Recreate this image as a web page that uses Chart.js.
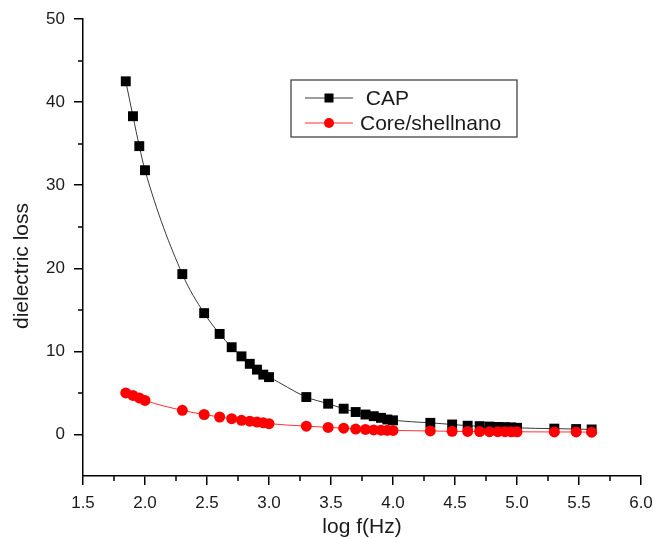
<!DOCTYPE html>
<html>
<head>
<meta charset="utf-8">
<script src="https://cdn.jsdelivr.net/npm/chart.js@4"></script>
<style>
  html, body { margin: 0; padding: 0; background: #fff; }
  #wrap { width: 654px; height: 538px; }
</style>
</head>
<body>
<div id="wrap"><canvas id="chart" width="654" height="538"></canvas></div>
<script>
// log of frequency (70 Hz ... 400 kHz)
const logF = [1.845, 1.903, 1.954, 2.0, 2.301, 2.477, 2.602, 2.699, 2.778, 2.845, 2.903, 2.954, 3.0,
  3.301, 3.477, 3.602, 3.699, 3.778, 3.845, 3.903, 3.954, 4.0,
  4.301, 4.477, 4.602, 4.699, 4.778, 4.845, 4.903, 4.954, 5.0,
  5.301, 5.477, 5.602];
const capLoss = [42.5, 38.3, 34.7, 31.8, 19.3, 14.6, 12.1, 10.5, 9.4, 8.5, 7.8, 7.2, 6.9,
  4.5, 3.7, 3.1, 2.7, 2.4, 2.2, 2.0, 1.8, 1.7,
  1.4, 1.2, 1.05, 1.0, 0.95, 0.9, 0.88, 0.85, 0.8,
  0.7, 0.65, 0.6];
const coreShellLoss = [5.0, 4.7, 4.4, 4.1, 2.9, 2.4, 2.1, 1.9, 1.7, 1.6, 1.5, 1.4, 1.3,
  1.0, 0.85, 0.75, 0.65, 0.6, 0.55, 0.52, 0.5, 0.48,
  0.42, 0.38, 0.36, 0.35, 0.34, 0.33, 0.33, 0.32, 0.32,
  0.3, 0.3, 0.28];
const seriesNames = [' CAP', 'Core/shellnano'];
const xTitle = 'log f(Hz)';
const yTitle = 'dielectric loss';
const xTicks = [1.5, 2.0, 2.5, 3.0, 3.5, 4.0, 4.5, 5.0, 5.5, 6.0];
const xMinor = [1.75, 2.25, 2.75, 3.25, 3.75, 4.25, 4.75, 5.25, 5.75];
const yTicks = [0, 10, 20, 30, 40, 50];
const yMinor = [5, 15, 25, 35, 45];

const FONT = '"Liberation Sans", Arial, sans-serif';
const ink = '#1a1a1a';

function pts(vals) {
  return logF.map((x, i) => ({ x: x, y: vals[i] }));
}

// short minor ticks, Origin style
const minorTicks = {
  id: 'minorTicks',
  afterDraw(chart) {
    const ctx = chart.ctx;
    const xs = chart.scales.x, ys = chart.scales.y;
    const a = chart.chartArea;
    ctx.save();
    ctx.strokeStyle = '#000';
    ctx.lineWidth = 1.5;
    ctx.beginPath();
    xMinor.forEach(v => {
      const px = Math.round(xs.getPixelForValue(v));
      ctx.moveTo(px, a.bottom); ctx.lineTo(px, a.bottom + 5);
    });
    yMinor.forEach(v => {
      const py = Math.round(ys.getPixelForValue(v));
      ctx.moveTo(a.left, py); ctx.lineTo(a.left - 5, py);
    });
    ctx.stroke();
    ctx.restore();
  }
};

// y title sits a bit below the axis centre in the original
const yTitlePlugin = {
  id: 'yTitlePlugin',
  afterDraw(chart) {
    const ctx = chart.ctx;
    ctx.save();
    ctx.translate(22, 266);
    ctx.rotate(-Math.PI / 2);
    ctx.font = '21px ' + FONT;
    ctx.fillStyle = ink;
    ctx.textAlign = 'center';
    ctx.textBaseline = 'middle';
    ctx.fillText(yTitle, 0, 0);
    ctx.restore();
  }
};

// boxed legend inside the plot
const boxLegend = {
  id: 'boxLegend',
  afterDraw(chart) {
    const ctx = chart.ctx;
    const ds = chart.data.datasets;
    const bx = 291, by = 80, bw = 226, bh = 57;
    ctx.save();
    ctx.strokeStyle = '#444';
    ctx.lineWidth = 1.3;
    ctx.strokeRect(bx, by, bw, bh);
    ctx.font = '21px ' + FONT;
    ctx.textBaseline = 'middle';
    ctx.fillStyle = ink;
    [98, 123].forEach((y, i) => {
      const d = ds[i];
      ctx.strokeStyle = d.borderColor;
      ctx.lineWidth = 1;
      ctx.beginPath();
      ctx.moveTo(305, y); ctx.lineTo(353, y);
      ctx.stroke();
      ctx.fillStyle = d.pointBackgroundColor;
      if (d.pointStyle === 'rect') {
        ctx.fillRect(329 - 4.5, y - 4.5, 9, 9);
      } else {
        ctx.beginPath();
        ctx.arc(329, y, 5, 0, Math.PI * 2);
        ctx.fill();
      }
      ctx.fillStyle = ink;
      ctx.fillText(seriesNames[i], 360, y + 1);
    });
    ctx.restore();
  }
};

new Chart(document.getElementById('chart'), {
  type: 'line',
  data: {
    datasets: [
      {
        label: seriesNames[0],
        data: pts(capLoss),
        borderColor: '#3a3a3a',
        borderWidth: 1,
        pointStyle: 'rect',
        pointRadius: 7,
        pointBackgroundColor: '#000',
        pointBorderColor: '#000',
        pointBorderWidth: 0,
        cubicInterpolationMode: 'monotone',
        order: 1
      },
      {
        label: seriesNames[1],
        data: pts(coreShellLoss),
        borderColor: '#ff3030',
        borderWidth: 1,
        pointStyle: 'circle',
        pointRadius: 5.5,
        pointBackgroundColor: '#ff0000',
        pointBorderColor: '#ff0000',
        pointBorderWidth: 0,
        cubicInterpolationMode: 'monotone',
        order: 0
      }
    ]
  },
  options: {
    responsive: false,
    animation: false,
    layout: { padding: { top: 19, right: 13, left: 0, bottom: 0 } },
    plugins: { legend: { display: false }, tooltip: { enabled: false } },
    scales: {
      x: {
        type: 'linear',
        min: 1.5, max: 6.0,
        afterBuildTicks: s => { s.ticks = xTicks.map(v => ({ value: v })); },
        afterFit: s => { s.height = 62; s.paddingLeft = 0; s.paddingRight = 0; },
        grid: { drawOnChartArea: false, tickLength: 9, color: '#000', lineWidth: 1.5 },
        border: { color: '#000', width: 1.5 },
        ticks: { color: ink, padding: 8, font: { family: FONT, size: 17 }, callback: v => v.toFixed(1), maxRotation: 0 },
        title: { display: true, text: xTitle, color: ink, font: { family: FONT, size: 21, lineHeight: 1 }, padding: { top: -6, bottom: 0 } }
      },
      y: {
        min: -5, max: 50,
        afterBuildTicks: s => { s.ticks = yTicks.map(v => ({ value: v })); },
        afterFit: s => { s.width = 83; s.paddingTop = 0; s.paddingBottom = 0; },
        grid: { drawOnChartArea: false, tickLength: 9, color: '#000', lineWidth: 1.5 },
        border: { color: '#000', width: 1.5 },
        ticks: { color: ink, padding: 9, font: { family: FONT, size: 17 } },
        title: { display: false }
      }
    }
  },
  plugins: [minorTicks, yTitlePlugin, boxLegend]
});
</script>
</body>
</html>
